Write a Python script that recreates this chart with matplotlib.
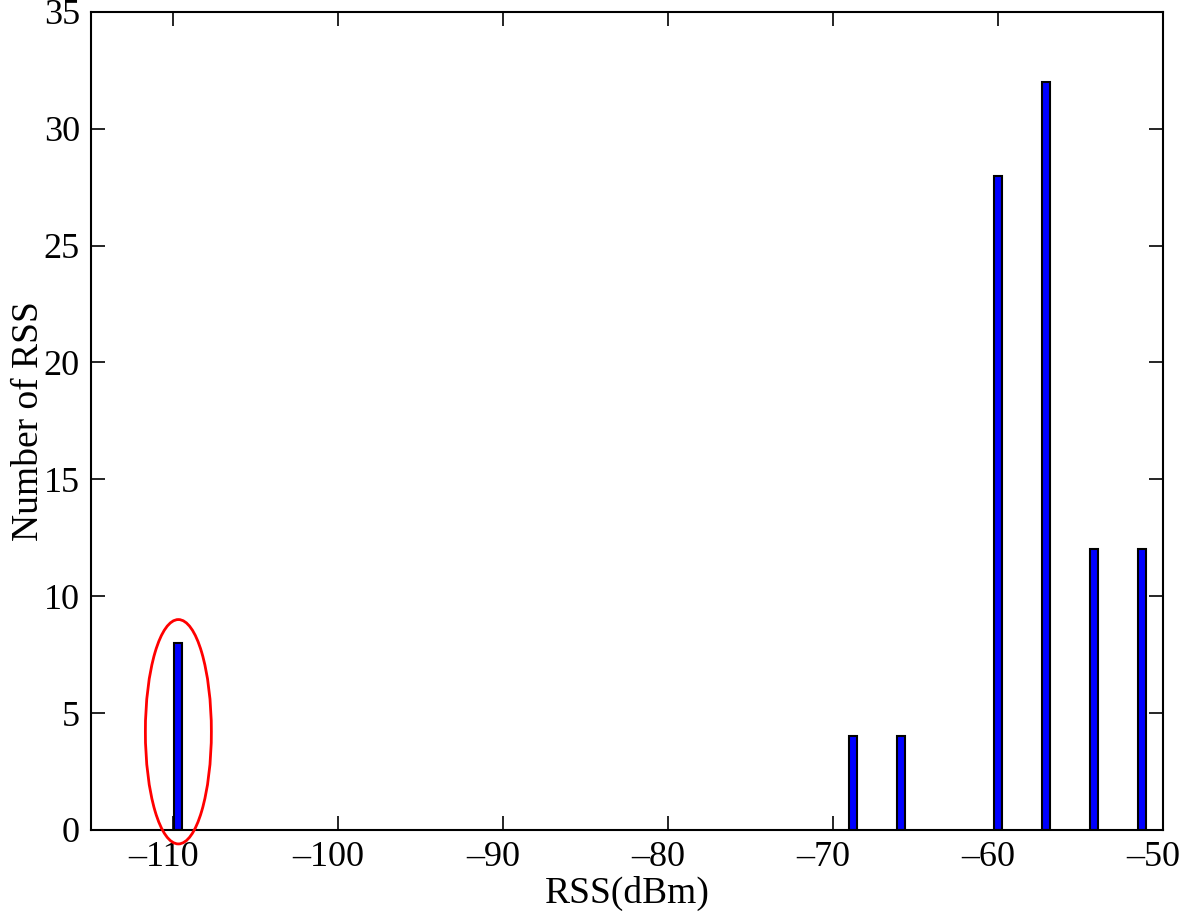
import matplotlib
matplotlib.use("Agg")
import matplotlib.pyplot as plt
from matplotlib.patches import Ellipse
from matplotlib.transforms import ScaledTranslation

# histogram bin centres (dBm) and counts
rss_centers = [-109.7, -68.8, -65.9, -60.0, -57.1, -54.2, -51.3]
rss_counts  = [8, 4, 4, 28, 32, 12, 12]
bar_width   = 0.5

x_ticks = [-110, -100, -90, -80, -70, -60, -50]
y_ticks = [0, 5, 10, 15, 20, 25, 30, 35]

# outlier marker around the -110 dBm bin
outlier_center = (-109.7, 4.2)
outlier_size   = (4.0, 9.6)

plt.rcParams["font.family"] = ["Liberation Serif", "DejaVu Serif"]

fig = plt.figure(figsize=(11.81, 9.16), dpi=100)
ax = fig.add_axes([0.077, 0.094, 0.908, 0.893])

ax.bar(rss_centers, rss_counts, width=bar_width, color="#0000ff",
       edgecolor="black", linewidth=1.5, zorder=2)

ell = Ellipse(outlier_center, outlier_size[0], outlier_size[1],
              fill=False, edgecolor="red", linewidth=2.0, zorder=3, clip_on=False)
ax.add_patch(ell)

ax.set_xlim(-115, -50)
ax.set_ylim(0, 35)
ax.set_xticks(x_ticks)
ax.set_yticks(y_ticks)
ax.set_xticklabels([f"\u2013{abs(v)}" for v in x_ticks])
ax.tick_params(direction="in", top=True, right=True, length=10, width=1.2,
               labelsize=26, pad=8)
# matlab-style labels sit a little left of their ticks
shift = ScaledTranslation(-10 / 100, 0, fig.dpi_scale_trans)
for lbl in ax.get_xticklabels():
    lbl.set_transform(lbl.get_transform() + shift)
for s in ax.spines.values():
    s.set_linewidth(1.5)

ax.set_xlabel("RSS(dBm)", fontsize=27, labelpad=1)
ax.set_ylabel("Number of RSS", fontsize=27, labelpad=-2)

fig.savefig("out.png", dpi=100)
